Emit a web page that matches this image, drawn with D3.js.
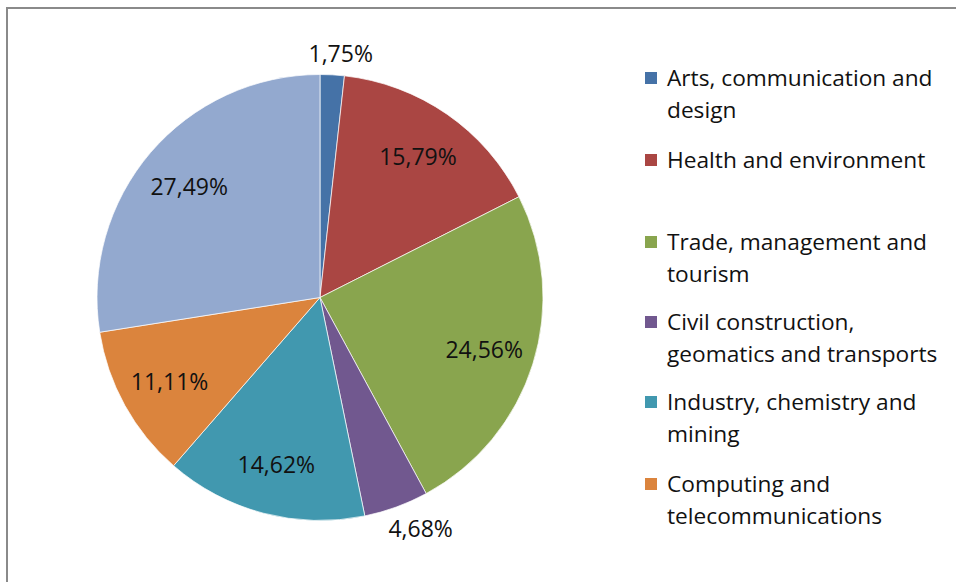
<!DOCTYPE html>
<html lang="en">
<head>
    <meta charset="UTF-8">
    <script src="https://cdn.jsdelivr.net/npm/d3@7"></script>
    <title>Students by area</title>
    <style>
        body { margin: 0; background: #fff; }
        svg { display: block; }
        text { font-family: "Open Sans", "Noto Sans", sans-serif; fill: #111; }
        .label { font-size: 23px; }
        .legend text { font-size: 22.7px; }
    </style>
</head>
<body>
<svg width="956" height="582"></svg>

<script>
    // slices, clockwise from 12 o'clock
    const categories = [
        "Arts, communication and design",
        "Health and environment",
        "Trade, management and tourism",
        "Civil construction, geomatics and transports",
        "Industry, chemistry and mining",
        "Computing and telecommunications",
        "Other"
    ];
    const values = [1.75, 15.79, 24.56, 4.68, 14.62, 11.11, 27.49];
    const colors = ["#4572A7", "#AA4643", "#89A54E", "#71588F", "#4198AF", "#DB843D", "#93A9CF"];
    // legend lines as wrapped in the original (last entry falls off the bottom of the frame)
    const legendLines = [
        ["Arts, communication and", "design"],
        ["Health and environment"],
        ["Trade, management and", "tourism"],
        ["Civil construction,", "geomatics and transports"],
        ["Industry, chemistry and", "mining"],
        ["Computing and", "telecommunications"]
    ];

    const svg = d3.select("svg");
    const W = 956, H = 582;

    // chart frame, cut off at right and bottom
    svg.append("rect")
        .attr("x", 7).attr("y", 8)
        .attr("width", W + 20).attr("height", H + 20)
        .attr("fill", "none")
        .attr("stroke", "#8a8a8a")
        .attr("stroke-width", 2);

    const cx = 320, cy = 297.5, R = 223;
    const fmt = v => d3.format(".2f")(v).replace(".", ",") + "%";

    const pie = d3.pie().sort(null).value(d => d)(values);
    const arc = d3.arc().innerRadius(0).outerRadius(R);
    const inArc = d3.arc().innerRadius(172).outerRadius(172);
    const outArc = d3.arc().innerRadius(R + 16).outerRadius(R + 16);

    const g = svg.append("g").attr("transform", `translate(${cx},${cy})`);

    g.selectAll("path")
        .data(pie)
        .join("path")
        .attr("d", arc)
        .attr("fill", (d, i) => colors[i])
        .attr("stroke", "#fff")
        .attr("stroke-width", 0.7);

    g.selectAll("text.label")
        .data(pie)
        .join("text")
        .attr("class", "label")
        .attr("text-anchor", "middle")
        .attr("dominant-baseline", "central")
        .text(d => fmt(d.data))
        .each(function(d) {
            const t = d3.select(this);
            const a = (d.startAngle + d.endAngle) / 2;
            let p;
            if (d.data < 5) {
                // small slices get their label just outside the rim
                const w = this.getComputedTextLength();
                const s = Math.sin(a), c = Math.cos(a);
                const q = outArc.centroid(d);
                p = [q[0] + Math.sign(s) * Math.sqrt(Math.abs(s)) * w / 2, q[1] - c * 6];
            } else {
                p = inArc.centroid(d);
            }
            t.attr("x", p[0]).attr("y", p[1]);
        });

    const firstBase = [86, 168, 250, 330, 410, 492];
    const lg = svg.append("g").attr("class", "legend");
    legendLines.forEach((lines, i) => {
        const item = lg.append("g");
        item.append("rect")
            .attr("x", 645).attr("y", firstBase[i] - 14)
            .attr("width", 12).attr("height", 12)
            .attr("fill", colors[i]);
        lines.forEach((s, j) => {
            item.append("text")
                .attr("x", 667)
                .attr("y", firstBase[i] + j * 32)
                .text(s);
        });
    });
</script>
</body>
</html>
